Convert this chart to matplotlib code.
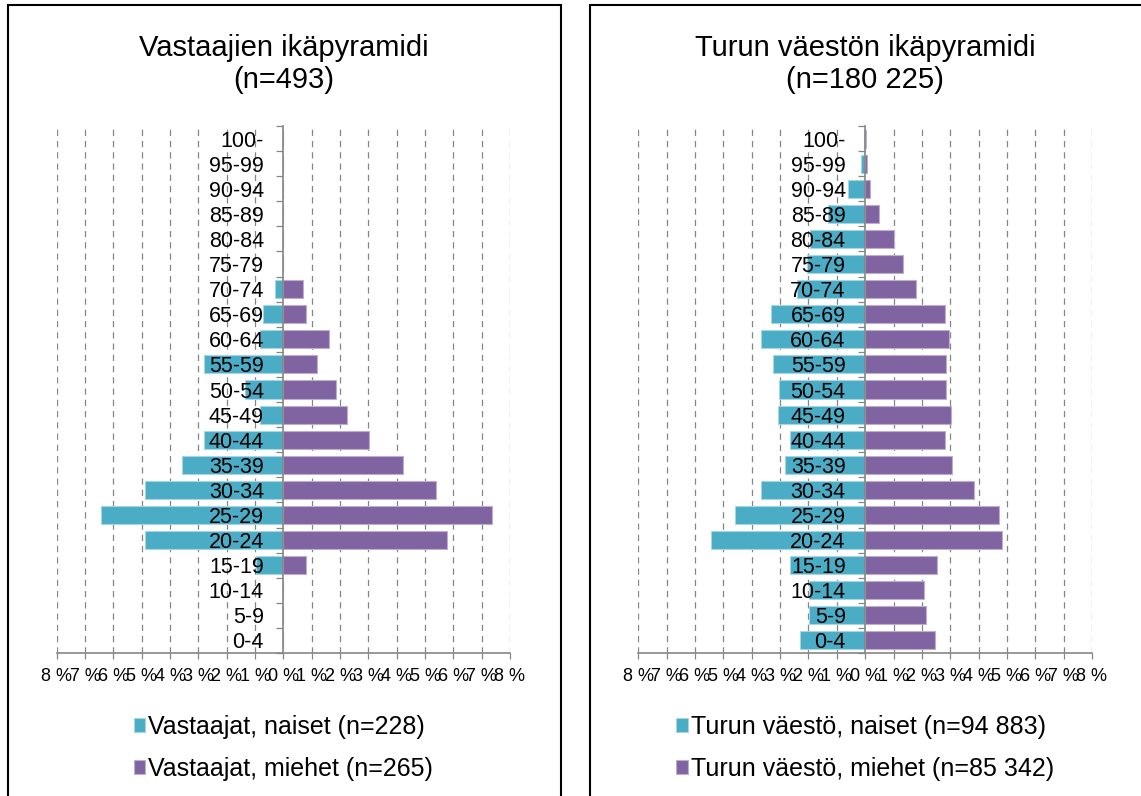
import numpy as np
import matplotlib
matplotlib.use("Agg")
import matplotlib.pyplot as plt
from matplotlib.patches import Rectangle

# age groups, bottom to top
AGES = ["0-4", "5-9", "10-14", "15-19", "20-24", "25-29", "30-34", "35-39",
        "40-44", "45-49", "50-54", "55-59", "60-64", "65-69", "70-74",
        "75-79", "80-84", "85-89", "90-94", "95-99", "100-"]

# share of respondents (%)
RESP_WOMEN = [0, 0, 0, 0.96, 4.88, 6.45, 4.88, 3.56, 2.79, 0.82, 1.36,
              2.79, 0.82, 0.71, 0.29, 0, 0, 0, 0, 0, 0]
RESP_MEN = [0, 0, 0, 0.80, 5.79, 7.35, 5.39, 4.21, 3.04, 2.26, 1.86,
            1.20, 1.60, 0.80, 0.68, 0, 0, 0, 0, 0, 0]

# share of Turku population (%)
TURKU_WOMEN = [2.31, 1.99, 1.98, 2.64, 5.44, 4.59, 3.66, 2.84, 2.66, 3.09, 3.05,
               3.25, 3.66, 3.31, 2.39, 2.04, 1.93, 1.31, 0.59, 0.16, 0.04]
TURKU_MEN = [2.48, 2.15, 2.07, 2.53, 4.81, 4.71, 3.85, 3.08, 2.81, 3.02, 2.85,
             2.85, 2.96, 2.82, 1.81, 1.34, 1.01, 0.49, 0.16, 0.06, 0.02]

TITLES = ["Vastaajien ikäpyramidi\n(n=493)",
          "Turun väestön ikäpyramidi\n(n=180 225)"]
LEGEND_LABELS = [("Vastaajat, naiset (n=228)", "Vastaajat, miehet (n=265)"),
                 ("Turun väestö, naiset (n=94 883)", "Turun väestö, miehet (n=85 342)")]
XTICKS = list(range(-8, 9))

TEAL = "#4BACC6"
PURPLE = "#8064A2"
GRAY = "#868686"

W, H = 1141, 796

plt.rcParams['font.family'] = ['Liberation Sans', 'DejaVu Sans']


def draw_pyramid(ax, women, men, title, labels):
    y = np.arange(len(AGES))
    ax.barh(y, -np.array(women), height=0.72, color=TEAL, edgecolor="#a6d6e3",
            linewidth=0.8, label=labels[0], zorder=1)
    ax.barh(y, men, height=0.72, color=PURPLE, edgecolor="#bcaed0",
            linewidth=0.8, label=labels[1], zorder=1)

    # dashed vertical gridlines
    for v in XTICKS:
        if v != 0:
            ax.axvline(v, color=GRAY, lw=0.9, ls=(0, (5, 4)), zorder=0.5)

    ax.set_xlim(-8, 8)
    ax.set_ylim(-0.5, len(AGES) - 0.5)
    ax.set_xticks(XTICKS)
    ax.set_xticklabels([f"{abs(v)} %" for v in XTICKS], fontsize=13)
    ax.tick_params(axis='x', direction='out', length=4.5, width=0.9,
                   color=GRAY, pad=6)

    # vertical axis sits at zero
    ax.spines['left'].set_position(('data', 0))
    ax.spines['top'].set_visible(False)
    ax.spines['right'].set_visible(False)
    for s in ['left', 'bottom']:
        ax.spines[s].set_color(GRAY)
        ax.spines[s].set_linewidth(1.2)

    ax.set_yticks(np.arange(len(AGES) + 1) - 0.5)
    ax.set_yticklabels([])
    ax.set_yticks(y, minor=True)
    ax.set_yticklabels(AGES, minor=True, fontsize=15.5)
    ax.tick_params(axis='y', which='major', direction='out', length=5,
                   width=0.9, color=GRAY)
    ax.tick_params(axis='y', which='minor', length=0, pad=14)

    pos = ax.get_position()
    cx = (pos.x0 + pos.x1) / 2
    ax.figure.text(cx, 1 - 64 / H, title, ha='center', va='center',
                   fontsize=21, linespacing=1.2)

    ax.legend(loc='upper center', bbox_to_anchor=(cx, 1 - 715 / H),
              bbox_transform=ax.figure.transFigure, frameon=False,
              fontsize=18, handlelength=0.45, handleheight=0.45,
              handletextpad=0.12, labelspacing=0.72, borderpad=0,
              borderaxespad=0)


def main():
    fig = plt.figure(figsize=(W / 100, H / 100), dpi=100)
    top = 126 / H
    bottom = 653 / H
    ax1 = fig.add_axes([56.7 / W, 1 - bottom, (510 - 56.7) / W, bottom - top])
    ax2 = fig.add_axes([638.3 / W, 1 - bottom, (1092 - 638.3) / W, bottom - top])

    draw_pyramid(ax1, RESP_WOMEN, RESP_MEN, TITLES[0], LEGEND_LABELS[0])
    draw_pyramid(ax2, TURKU_WOMEN, TURKU_MEN, TITLES[1], LEGEND_LABELS[1])

    # chart frames
    fig.add_artist(Rectangle((7.5 / W, -0.05), (561 - 7.5) / W, 1.05 - 5 / H,
                             transform=fig.transFigure, fill=False,
                             lw=1.5, ec='black'))
    fig.add_artist(Rectangle((590 / W, -0.05), 0.5, 1.05 - 5 / H,
                             transform=fig.transFigure, fill=False,
                             lw=1.5, ec='black'))

    fig.savefig("out.png", dpi=100)
    plt.close(fig)


if __name__ == "__main__":
    main()
